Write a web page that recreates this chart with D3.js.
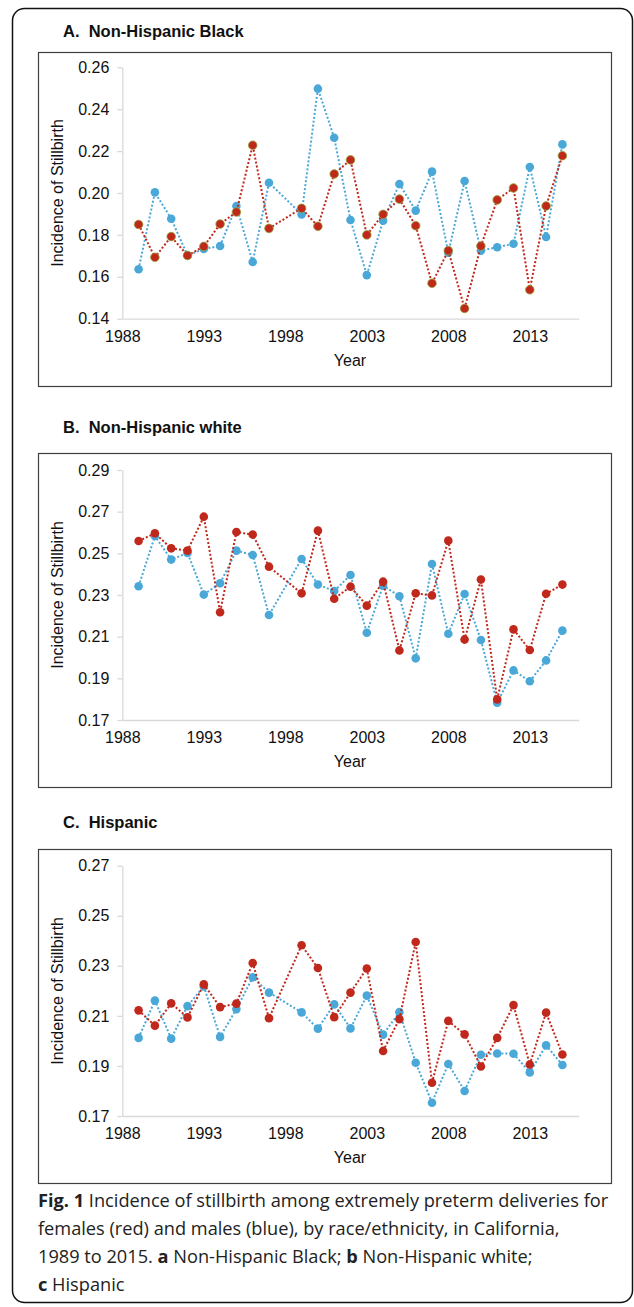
<!DOCTYPE html>
<html>
<head>
<meta charset="utf-8">
<script src="https://cdn.jsdelivr.net/npm/d3@7"></script>
<style>
  body { margin: 0; background: #fff; }
  svg { display: block; }
</style>
</head>
<body>
<svg id="fig" width="634" height="1307"></svg>
<script>
// years with data (1998 has no point in any panel)
const years = [1989, 1990, 1991, 1992, 1993, 1994, 1995, 1996, 1997, 1999, 2000, 2001,
  2002, 2003, 2004, 2005, 2006, 2007, 2008, 2009, 2010, 2011, 2012, 2013, 2014, 2015];
const xTicks = [1988, 1993, 1998, 2003, 2008, 2013];

const blackMale = [0.1636, 0.2003, 0.1877, 0.1702, 0.1733, 0.1747, 0.1938, 0.1671, 0.2049, 0.1898, 0.2498, 0.2264,
  0.1871, 0.1608, 0.1868, 0.2043, 0.1916, 0.2102, 0.1715, 0.2057, 0.1725, 0.1741, 0.1758, 0.2124, 0.1790, 0.2232];
const blackFemale = [0.1850, 0.1693, 0.1792, 0.1702, 0.1745, 0.1852, 0.1909, 0.2228, 0.1831, 0.1927, 0.1841, 0.2091,
  0.2158, 0.1800, 0.1898, 0.1971, 0.1844, 0.1569, 0.1725, 0.1449, 0.1747, 0.1967, 0.2024, 0.1538, 0.1938, 0.2178];

const whiteMale = [0.2342, 0.2583, 0.2470, 0.2502, 0.2302, 0.2356, 0.2513, 0.2492, 0.2204, 0.2473, 0.2350, 0.2319,
  0.2396, 0.2119, 0.2345, 0.2294, 0.1996, 0.2449, 0.2114, 0.2305, 0.2084, 0.1783, 0.1938, 0.1886, 0.1986, 0.2129];
const whiteFemale = [0.2559, 0.2596, 0.2524, 0.2513, 0.2676, 0.2217, 0.2602, 0.2590, 0.2436, 0.2308, 0.2609, 0.2282,
  0.2340, 0.2249, 0.2364, 0.2034, 0.2308, 0.2298, 0.2561, 0.2086, 0.2374, 0.1799, 0.2135, 0.2036, 0.2306, 0.2350];

const hispMale = [0.2012, 0.2161, 0.2009, 0.2139, 0.2218, 0.2016, 0.2127, 0.2254, 0.2193, 0.2114, 0.2049, 0.2146,
  0.2050, 0.2181, 0.2025, 0.2115, 0.1913, 0.1753, 0.1908, 0.1800, 0.1945, 0.1950, 0.1949, 0.1874, 0.1982, 0.1904];
const hispFemale = [0.2122, 0.2061, 0.2150, 0.2094, 0.2226, 0.2135, 0.2149, 0.2311, 0.2091, 0.2382, 0.2291, 0.2095,
  0.2193, 0.2289, 0.1960, 0.2087, 0.2395, 0.1833, 0.2080, 0.2026, 0.1898, 0.2012, 0.2143, 0.1906, 0.2113, 0.1946];

const titles = ["A.  Non-Hispanic Black", "B.  Non-Hispanic white", "C.  Hispanic"];
const yTicksA = [0.14, 0.16, 0.18, 0.20, 0.22, 0.24, 0.26];
const yTicksB = [0.17, 0.19, 0.21, 0.23, 0.25, 0.27, 0.29];
const yTicksC = [0.17, 0.19, 0.21, 0.23, 0.25, 0.27];

const RED = "#c0281c";
const BLUE = "#4aa8d8";
const FONT = "Liberation Sans, Arial, sans-serif";

const panels = [
  { title: titles[0], male: blackMale, female: blackFemale, ticks: yTicksA, titleY: 37, boxTop: 52, plotTop: 67.3, plotBottom: 318.7, outline: true },
  { title: titles[1], male: whiteMale, female: whiteFemale, ticks: yTicksB, titleY: 433, boxTop: 453, plotTop: 470, plotBottom: 720, outline: false },
  { title: titles[2], male: hispMale, female: hispFemale, ticks: yTicksC, titleY: 828, boxTop: 849, plotTop: 865.7, plotBottom: 1116, outline: false }
];

const svg = d3.select("#fig");

// outer frame
svg.append("rect")
  .attr("x", 12.5).attr("y", 8.5)
  .attr("width", 620).attr("height", 1294)
  .attr("rx", 12)
  .attr("fill", "none").attr("stroke", "#111").attr("stroke-width", 1.5);

const pL = 122.3, pR = 578.7;
const x = d3.scaleLinear().domain([1988, 2016]).range([pL, pR]);

panels.forEach(p => {
  const g = svg.append("g");

  g.append("text")
    .attr("x", 63).attr("y", p.titleY)
    .attr("xml:space", "preserve")
    .attr("font-family", FONT)
    .attr("font-weight", "bold").attr("font-size", 16.5)
    .attr("fill", "#111")
    .text(p.title);

  g.append("rect")
    .attr("x", 38.5).attr("y", p.boxTop + 0.5)
    .attr("width", 573).attr("height", 334)
    .attr("fill", "#fff").attr("stroke", "#404040").attr("stroke-width", 1.2);

  const y = d3.scaleLinear()
    .domain(d3.extent(p.ticks))
    .range([p.plotBottom, p.plotTop]);

  // y axis
  const yAxis = d3.axisLeft(y)
    .tickValues(p.ticks)
    .tickFormat(d3.format(".2f"))
    .tickSizeInner(5).tickSizeOuter(0).tickPadding(8);

  const ya = g.append("g")
    .attr("transform", "translate(" + pL + ",0)")
    .call(yAxis);
  ya.select(".domain").attr("stroke", "#d9d9d9").attr("stroke-width", 1.3);
  ya.selectAll(".tick line").attr("stroke", "#d9d9d9").attr("stroke-width", 1.3);
  ya.selectAll("text")
    .attr("font-family", FONT)
    .attr("font-size", 16).attr("fill", "#111");

  // x axis
  const xAxis = d3.axisBottom(x)
    .tickValues(xTicks)
    .tickFormat(d3.format("d"))
    .tickSize(0).tickPadding(12);

  const xa = g.append("g")
    .attr("transform", "translate(0," + p.plotBottom + ")")
    .call(xAxis);
  xa.select(".domain").attr("stroke", "#d9d9d9").attr("stroke-width", 1.3);
  xa.selectAll("text")
    .attr("font-family", FONT)
    .attr("font-size", 16).attr("fill", "#111");

  g.append("text")
    .attr("x", 350).attr("y", p.plotBottom + 47)
    .attr("text-anchor", "middle")
    .attr("font-family", FONT)
    .attr("font-size", 16).attr("fill", "#111")
    .text("Year");

  g.append("text")
    .attr("transform", "translate(63," + ((p.plotTop + p.plotBottom) / 2) + ") rotate(-90)")
    .attr("text-anchor", "middle")
    .attr("font-family", FONT)
    .attr("font-size", 16).attr("fill", "#111")
    .text("Incidence of Stillbirth");

  const line = d3.line()
    .x((d, i) => x(years[i]))
    .y(d => y(d));

  [[p.male, BLUE, false], [p.female, RED, p.outline]].forEach(([vals, col, outl]) => {
    g.append("path")
      .datum(vals)
      .attr("d", line)
      .attr("fill", "none")
      .attr("stroke", col)
      .attr("stroke-width", 2)
      .attr("stroke-dasharray", "2,2");

    g.selectAll(null)
      .data(vals)
      .enter()
      .append("circle")
      .attr("cx", (d, i) => x(years[i]))
      .attr("cy", d => y(d))
      .attr("r", 4.3)
      .attr("fill", col)
      .attr("stroke", outl ? "#8fa33a" : "none")
      .attr("stroke-width", 0.8);
  });
});

// caption
const capLines = [
  [["Fig. 1", true], [" Incidence of stillbirth among extremely preterm deliveries for", false]],
  [["females (red) and males (blue), by race/ethnicity, in California,", false]],
  [["1989 to 2015. ", false], ["a", true], [" Non-Hispanic Black; ", false], ["b", true], [" Non-Hispanic white;", false]],
  [["c", true], [" Hispanic", false]]
];

capLines.forEach((parts, li) => {
  const t = svg.append("text")
    .attr("x", 38).attr("y", 1207 + li * 28)
    .attr("font-family", "Open Sans, sans-serif")
    .attr("font-size", 18.2)
    .attr("fill", "#222")
    .attr("xml:space", "preserve");
  parts.forEach(([s, b]) => {
    t.append("tspan")
      .attr("font-weight", b ? "bold" : "normal")
      .text(s);
  });
});
</script>
</body>
</html>
